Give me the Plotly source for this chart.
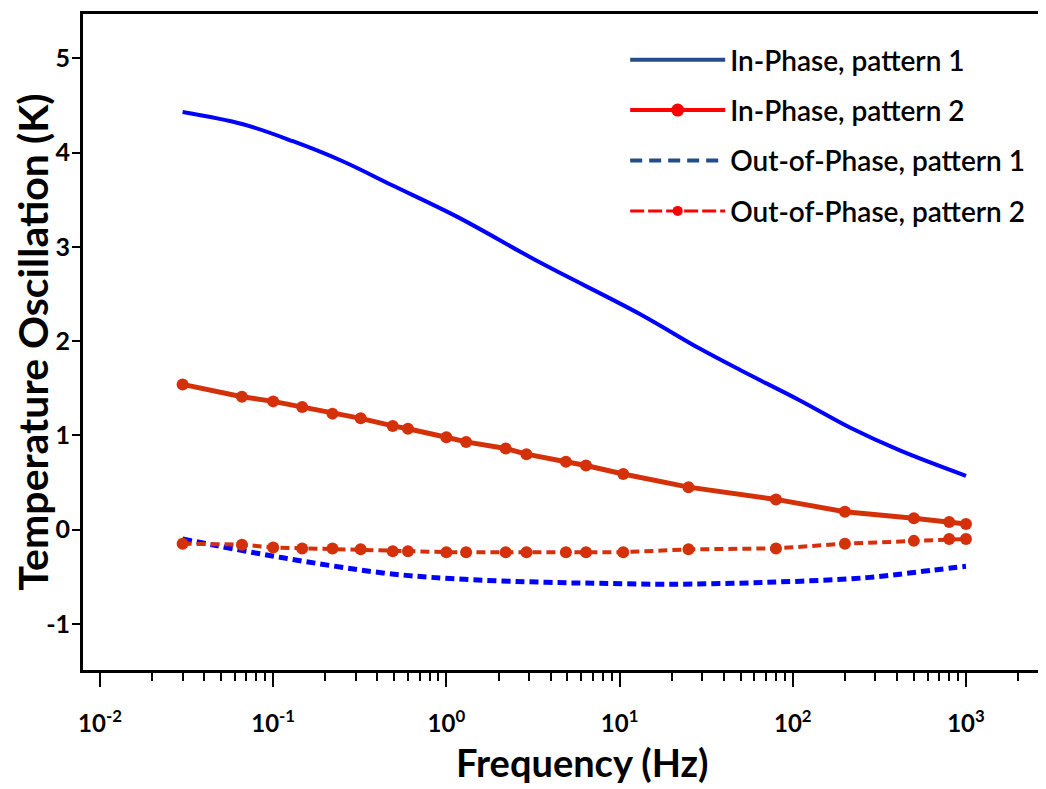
import plotly.graph_objects as go

# ---- data ----
freq_p1_in = [0.03, 0.067, 0.13, 0.25, 0.49, 1.15, 3.5, 13, 29, 50, 110, 215, 415, 1000]
inphase_p1 = [4.43, 4.30, 4.12, 3.91, 3.65, 3.32, 2.83, 2.29, 1.92, 1.69, 1.37, 1.08, 0.84, 0.57]

freq_p1_out = [0.03, 0.047, 0.114, 0.43, 1.05, 3.8, 7.7, 18.8, 71, 268, 646, 1000]
outphase_p1 = [-0.10, -0.17, -0.30, -0.46, -0.52, -0.56, -0.57, -0.58, -0.56, -0.51, -0.43, -0.39]

freq_p2 = [0.03, 0.066, 0.1, 0.147, 0.22, 0.32, 0.49, 0.6, 1.0, 1.3, 2.2, 2.9,
           4.9, 6.4, 10.5, 25, 80, 200, 500, 800, 1000]
inphase_p2 = [1.54, 1.41, 1.36, 1.30, 1.23, 1.18, 1.10, 1.07, 0.98, 0.93, 0.86, 0.80,
              0.72, 0.68, 0.59, 0.45, 0.32, 0.19, 0.12, 0.08, 0.06]
outphase_p2 = [-0.15, -0.16, -0.19, -0.20, -0.20, -0.21, -0.23, -0.23, -0.24, -0.24, -0.24, -0.24,
               -0.24, -0.24, -0.24, -0.21, -0.20, -0.15, -0.12, -0.10, -0.10]

legend_names = ["In-Phase, pattern 1", "In-Phase, pattern 2",
                "Out-of-Phase, pattern 1", "Out-of-Phase, pattern 2"]

x_tickvals = [0.01, 0.1, 1, 10, 100, 1000]
x_ticktext = ["10<sup>-2</sup>", "10<sup>-1</sup>", "10<sup>0</sup>",
              "10<sup>1</sup>", "10<sup>2</sup>", "10<sup>3</sup>"]
y_tickvals = [-1, 0, 1, 2, 3, 4, 5]
y_ticktext = ["-1", "0", "1", "2", "3", "4", "5"]
x_title = "Frequency (Hz)"
y_title = "Temperature Oscillation (K)"

BLUE = "#0000FF"
RED = "#D4300A"
LEG_BLUE = "#244B8A"
LEG_RED = "#FF0000"
FONT = "Lato"

fig = go.Figure()

# plotted curves (no legend)
fig.add_trace(go.Scatter(x=freq_p1_in, y=inphase_p1, mode="lines", line=dict(color=BLUE, width=4, shape="spline"),
                         showlegend=False))
fig.add_trace(go.Scatter(x=freq_p2, y=inphase_p2, mode="lines+markers", line=dict(color=RED, width=5),
                         marker=dict(color=RED, size=12, symbol="circle"), showlegend=False))
fig.add_trace(go.Scatter(x=freq_p1_out, y=outphase_p1, mode="lines",
                         line=dict(color=BLUE, width=5, dash="9px,5px", shape="spline"), showlegend=False))
fig.add_trace(go.Scatter(x=freq_p2, y=outphase_p2, mode="lines+markers",
                         line=dict(color=RED, width=4, dash="9px,5px"),
                         marker=dict(color=RED, size=12, symbol="circle"), showlegend=False))

# legend entries (legend colours differ from plotted colours in the reference)
fig.add_trace(go.Scatter(x=[None], y=[None], mode="lines", name=legend_names[0],
                         line=dict(color=LEG_BLUE, width=4), legendgroup="a"))
fig.add_trace(go.Scatter(x=[None], y=[None], mode="lines+markers", name=legend_names[1],
                         line=dict(color=LEG_RED, width=4), marker=dict(color=LEG_RED, size=13),
                         legendgroup="b"))
fig.add_trace(go.Scatter(x=[None], y=[None], mode="lines", name=legend_names[2],
                         line=dict(color=LEG_BLUE, width=4, dash="12px,7px"), legendgroup="c"))
fig.add_trace(go.Scatter(x=[None], y=[None], mode="lines+markers", name=legend_names[3],
                         line=dict(color=LEG_RED, width=3, dash="14px,4px"), marker=dict(color=LEG_RED, size=10),
                         legendgroup="d"))

minor_vals = []
for d in [0.01, 0.1, 1, 10, 100, 1000]:
    for k in range(2, 10):
        minor_vals.append(d * k)

fig.update_layout(
    width=1038, height=781,
    margin=dict(l=75, r=0, t=6, b=119),
    paper_bgcolor="white", plot_bgcolor="white",
    font=dict(family=FONT, color="black"),
    legend=dict(x=0.563, y=0.968, xanchor="left", yanchor="top",
                font=dict(family=FONT, size=28, color="black", weight=600),
                itemwidth=95, tracegroupgap=11, bgcolor="rgba(0,0,0,0)"),
    xaxis=dict(
        type="log", range=[-2.098, 3.462], automargin=False,
        showline=True, linecolor="black", linewidth=3, mirror=True,
        ticks="outside", ticklen=14, tickwidth=2, tickcolor="black",
        tickmode="array", tickvals=x_tickvals, ticktext=x_ticktext,
        tickfont=dict(family=FONT, size=24, weight="bold"),
        ticklabelstandoff=16,
        minor=dict(tickmode="array", tickvals=minor_vals, ticks="outside", ticklen=8,
                   tickwidth=2, tickcolor="black", showgrid=False),
        showgrid=False, zeroline=False,
    ),
    yaxis=dict(
        range=[-1.49, 5.47], automargin=False,
        showline=True, linecolor="black", linewidth=3, mirror=False,
        ticks="outside", ticklen=8, tickwidth=2, tickcolor="black",
        tickmode="array", tickvals=y_tickvals, ticktext=y_ticktext,
        tickfont=dict(family=FONT, size=25, weight="bold"),
        ticklabelstandoff=-3,
        showgrid=False, zeroline=False,
        title=dict(text=y_title, font=dict(family=FONT, size=41, weight="bold"), standoff=24),
    ),
    annotations=[dict(text=x_title, xref="paper", yref="paper", x=0.518, y=-0.141,
                      xanchor="center", yanchor="middle", showarrow=False,
                      font=dict(family=FONT, size=38, weight="bold", color="black"))],
)

fig.write_html("out.html")
